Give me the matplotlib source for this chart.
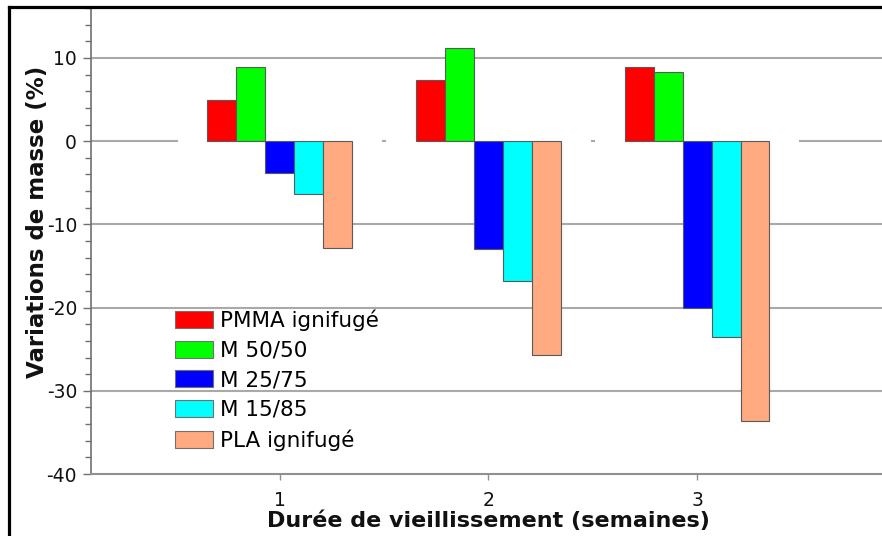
import matplotlib
matplotlib.use("Agg")
import matplotlib.pyplot as plt
from matplotlib.lines import Line2D
from matplotlib.patches import Rectangle
from matplotlib.ticker import MultipleLocator
import numpy as np

plt.rcParams['font.family'] = ['DejaVu Sans']
plt.rcParams['axes.unicode_minus'] = False

weeks = [1, 2, 3]
series = ["PMMA ignifugé", "M 50/50", "M 25/75", "M 15/85", "PLA ignifugé"]
pmma = [4.9, 7.4, 8.9]
m50 = [8.9, 11.2, 8.3]
m25 = [-3.8, -13.0, -20.1]
m15 = [-6.4, -16.8, -23.5]
pla = [-12.9, -25.7, -33.6]
colors = ["#ff0000", "#00ff00", "#0000ff", "#00ffff", "#ffaa80"]
y_ticks = [10, 0, -10, -20, -30, -40]

W, H = 882, 536
fig = plt.figure(figsize=(W / 100, H / 100), dpi=100)

# axes box in pixels: left 91, bottom 474, top 8, right edge of figure
ax = fig.add_axes([91 / W, 1 - 474 / H, 1 - 91 / W, (474 - 8) / H])
ax.set_xlim(0.094, 3.887)
ax.set_ylim(-40, 16)

x = np.array(weeks, dtype=float)
bw = 0.139
values = [pmma, m50, m25, m15, pla]
for i, (name, vals, col) in enumerate(zip(series, values, colors)):
    ax.bar(x + (i - 2) * bw, vals, width=bw, color=col, edgecolor="#5a5a5a",
           linewidth=0.8, label=name, zorder=3)

# horizontal grid
grid_col = "#a9a9a9"
for t in y_ticks[:-1]:
    ax.axhline(t, color=grid_col, lw=1.5, zorder=1)
# zero line is masked around each group of bars
for g in weeks:
    ax.add_patch(Rectangle((g - 0.49, -0.6), 0.98, 1.2, facecolor="white",
                           edgecolor="none", zorder=2))

ax.set_yticks(y_ticks)
ax.set_yticklabels([str(t) for t in y_ticks])
ax.yaxis.set_minor_locator(MultipleLocator(2))
ax.set_xticks(weeks)
ax.set_xticklabels([str(w) for w in weeks])

for s in ["top", "right"]:
    ax.spines[s].set_visible(False)
ax.spines["left"].set_color("#707070")
ax.spines["bottom"].set_color("#909090")
ax.spines["left"].set_linewidth(1.2)
ax.spines["bottom"].set_linewidth(1.5)

ax.tick_params(axis="y", which="major", length=6, width=1, color="#707070",
               labelsize=13.5, pad=4, labelcolor="#111111")
ax.tick_params(axis="y", which="minor", length=4, width=1, color="#707070")
ax.tick_params(axis="x", which="major", length=4, width=1, color="#909090",
               labelsize=13.5, pad=8, labelcolor="#111111")

leg = ax.legend(loc="upper left", bbox_to_anchor=(0.095, 0.371), frameon=False,
                fontsize=15.5, handlelength=1.77, handleheight=0.84,
                handletextpad=0.33, labelspacing=0.44, borderaxespad=0)
for p in leg.get_patches():
    p.set_edgecolor("#707070")

fig.text(38 / W, 1 - 222 / H, "Variations de masse (%)", rotation=90,
         ha="center", va="center", fontsize=16.5, fontweight="bold",
         color="#111111")
fig.text(488 / W, 1 - 521 / H, "Durée de vieillissement (semaines)",
         ha="center", va="center", fontsize=16, fontweight="bold",
         color="#111111")

# outer frame (left and top edges)
fig.add_artist(Line2D([8.5 / W, 8.5 / W], [0, 1 - 6.5 / H], transform=fig.transFigure,
                      color="black", lw=2.3))
fig.add_artist(Line2D([8.5 / W, 1], [1 - 6.5 / H, 1 - 6.5 / H], transform=fig.transFigure,
                      color="black", lw=2.3))

fig.savefig("out.png", dpi=100)
